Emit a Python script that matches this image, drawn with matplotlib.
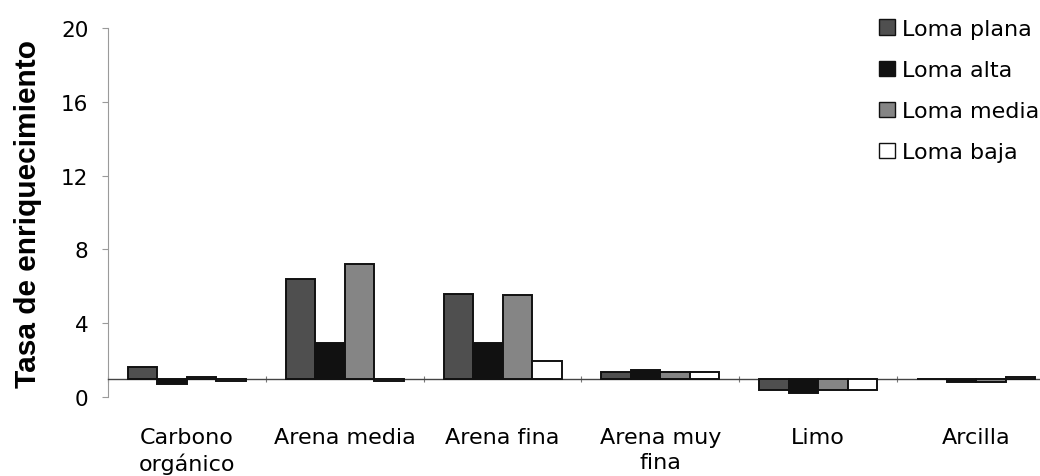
import matplotlib
matplotlib.use("Agg")
import matplotlib.pyplot as plt
import numpy as np

categories = ["Carbono\norgánico", "Arena media", "Arena fina", "Arena muy\nfina", "Limo", "Arcilla"]
series_names = ["Loma plana", "Loma alta", "Loma media", "Loma baja"]
loma_plana = [1.6, 6.4, 5.6, 1.35, 0.37, 0.97]
loma_alta = [0.72, 2.9, 2.95, 1.47, 0.2, 0.8]
loma_media = [1.1, 7.2, 5.55, 1.38, 0.36, 0.8]
loma_baja = [0.88, 0.88, 1.95, 1.38, 0.38, 1.1]
y_ticks = [0, 4, 8, 12, 16, 20]
baseline = 1.0

colors = ["#4f4f4f", "#111111", "#858585", "#ffffff"]
series = [loma_plana, loma_alta, loma_media, loma_baja]

fig = plt.figure(figsize=(10.4, 4.77), dpi=100)
ax = fig.add_axes([108 / 1040, 79 / 477, 947 / 1040, 369 / 477])

x = np.arange(len(categories))
w = 0.187
handles = []
for k, (vals, col, name) in enumerate(zip(series, colors, series_names)):
    vals = np.asarray(vals)
    h = ax.bar(x + (k - 1.5) * w, vals - baseline, width=w, bottom=baseline,
               color=col, edgecolor="#111111", linewidth=1.4, label=name, zorder=3)
    handles.append(h)

ax.set_xlim(-0.5, len(categories) - 0.5)
ax.set_ylim(0, 20)

# horizontal axis crosses the value axis at 1
for s in ["top", "right"]:
    ax.spines[s].set_visible(False)
ax.spines["bottom"].set_position(("data", baseline))
ax.spines["bottom"].set_color("#444444")
ax.spines["bottom"].set_linewidth(1.0)
ax.spines["left"].set_color("#9a9a9a")
ax.spines["left"].set_linewidth(0.8)

ax.set_xticks(x)
ax.set_xticklabels(categories, fontsize=16, family="DejaVu Sans", linespacing=1.3)
ax.set_xticks(np.arange(len(categories) + 1) - 0.5, minor=True)
ax.tick_params(axis="x", which="major", length=0, pad=35)
ax.tick_params(axis="x", which="minor", length=5, direction="inout", color="#777777", width=0.8)

ax.set_yticks(y_ticks)
ax.set_yticklabels([str(t) for t in y_ticks], fontsize=15.5, family="DejaVu Sans")
ax.tick_params(axis="y", length=4, color="#9a9a9a", width=0.8, pad=10)

ax.set_ylabel("Tasa de enriquecimiento", fontsize=21.5, fontweight="bold",
              family="Liberation Sans", labelpad=14)

leg = fig.legend(handles=handles, labels=series_names, loc="upper left",
                 bbox_to_anchor=(879 / 1040, 1 - 20 / 477), frameon=False,
                 prop={"family": "DejaVu Sans", "size": 16},
                 handlelength=0.7, handleheight=0.7, handletextpad=0.35,
                 labelspacing=0.95, borderpad=0, borderaxespad=0)
for p in leg.get_patches():
    p.set_linewidth(1.0)

fig.savefig("out.png", dpi=100)
